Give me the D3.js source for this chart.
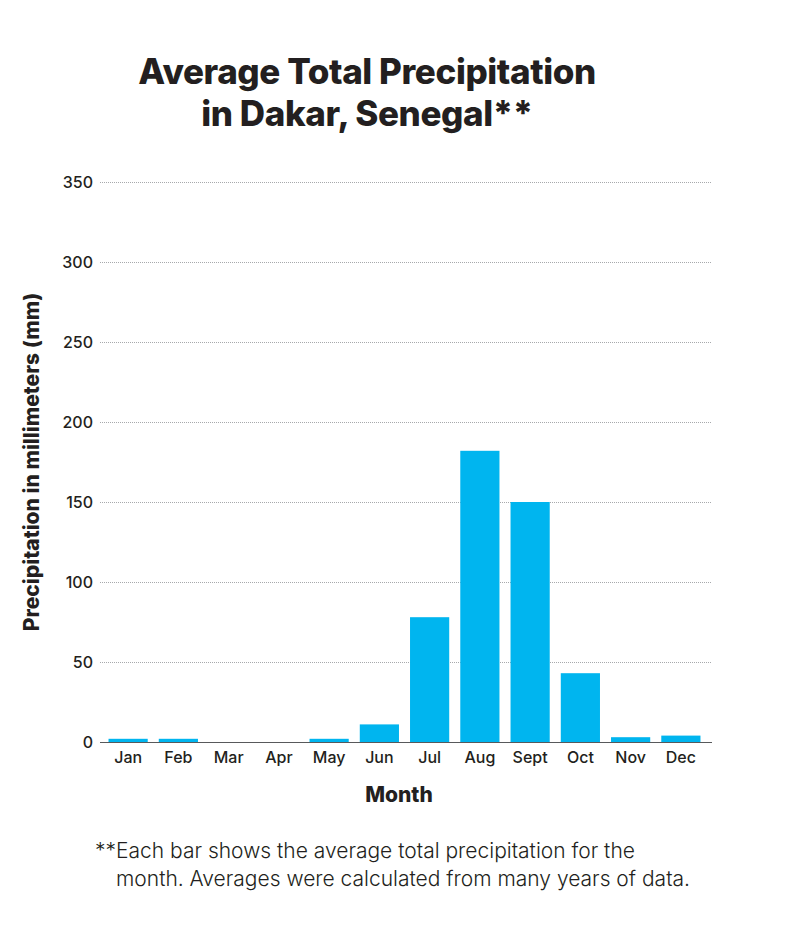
<!DOCTYPE html>
<html>
<head>
<meta charset="utf-8">
<script src="https://cdn.jsdelivr.net/npm/d3@7"></script>
<style>
  body { margin: 0; background: #fff; }
  text { font-family: Inter, Roboto, sans-serif; fill: #231f20; }
</style>
</head>
<body>
<script>
// monthly averages (mm)
var months = ["Jan", "Feb", "Mar", "Apr", "May", "Jun", "Jul", "Aug", "Sept", "Oct", "Nov", "Dec"];
var precip = [2, 2, 0, 0, 2, 11, 78, 182, 150, 43, 3, 4];
var yTicks = [0, 50, 100, 150, 200, 250, 300, 350];

var titleLines = ["Average Total Precipitation", "in Dakar, Senegal**"];
var noteLines = ["**Each bar shows the average total precipitation for the",
                 "month. Averages were calculated from many years of data."];

var svg = d3.select("body")
    .append("svg")
    .attr("width", 788)
    .attr("height", 928);

var x = d3.scaleBand()
    .domain(months)
    .range([103, 706])
    .paddingInner(0.22)
    .paddingOuter(0.11);

var y = d3.scaleLinear()
    .domain([0, 350])
    .range([742, 182]);

// gridlines
svg.append("g")
    .selectAll("line")
    .data(yTicks.slice(1))
    .enter()
    .append("line")
    .attr("x1", 100)
    .attr("x2", 712)
    .attr("y1", function (d) { return y(d) + 0.5; })
    .attr("y2", function (d) { return y(d) + 0.5; })
    .attr("stroke", "#a7a9ac")
    .attr("stroke-width", 1)
    .attr("stroke-dasharray", "1,1");

// bars
svg.selectAll("rect.bar")
    .data(precip)
    .enter()
    .append("rect")
    .attr("class", "bar")
    .attr("x", function (d, i) { return x(months[i]); })
    .attr("width", x.bandwidth())
    .attr("y", function (d) { return y(d); })
    .attr("height", function (d) { return y(0) - y(d); })
    .attr("fill", "#00b5ef");

// baseline
svg.append("line")
    .attr("x1", 100).attr("x2", 712)
    .attr("y1", y(0) + 0.5).attr("y2", y(0) + 0.5)
    .attr("stroke", "#58595b")
    .attr("stroke-width", 1.2);

// y axis labels
var yAxis = d3.axisLeft(y).tickValues(yTicks).tickSize(0).tickPadding(0);
var gy = svg.append("g")
    .attr("transform", "translate(93,0)")
    .call(yAxis);
gy.select(".domain").remove();
gy.selectAll("text")
    .style("font-family", "Inter, Roboto, sans-serif")
    .style("font-size", "16px")
    .style("font-weight", 500)
    .attr("fill", "#231f20");

// x axis labels
var xAxis = d3.axisBottom(x).tickSize(0).tickPadding(0);
var gx = svg.append("g")
    .attr("transform", "translate(0,752)")
    .call(xAxis);
gx.select(".domain").remove();
gx.selectAll("text")
    .style("font-family", "Inter, Roboto, sans-serif")
    .style("font-size", "16px")
    .style("font-weight", 500)
    .attr("fill", "#231f20");

// title
svg.append("g")
    .selectAll("text")
    .data(titleLines)
    .enter()
    .append("text")
    .attr("x", 367)
    .attr("y", function (d, i) { return 84 + i * 42; })
    .style("text-anchor", "middle")
    .style("font-size", "35px")
    .style("font-weight", 800)
    .style("letter-spacing", "-0.4px")
    .text(function (d) { return d; });

// axis titles
svg.append("text")
    .attr("transform", "translate(39,462) rotate(-90)")
    .style("text-anchor", "middle")
    .style("font-size", "21px")
    .style("font-weight", 800)
    .text("Precipitation in millimeters (mm)");

svg.append("text")
    .attr("x", 399)
    .attr("y", 802)
    .style("text-anchor", "middle")
    .style("font-size", "21px")
    .style("font-weight", 800)
    .text("Month");

// footnote
svg.append("g")
    .selectAll("text")
    .data(noteLines)
    .enter()
    .append("text")
    .attr("x", function (d, i) { return i === 0 ? 95 : 116; })
    .attr("y", function (d, i) { return 858 + i * 28; })
    .style("font-size", "21px")
    .style("font-weight", 300)
    .text(function (d) { return d; });
</script>
</body>
</html>
